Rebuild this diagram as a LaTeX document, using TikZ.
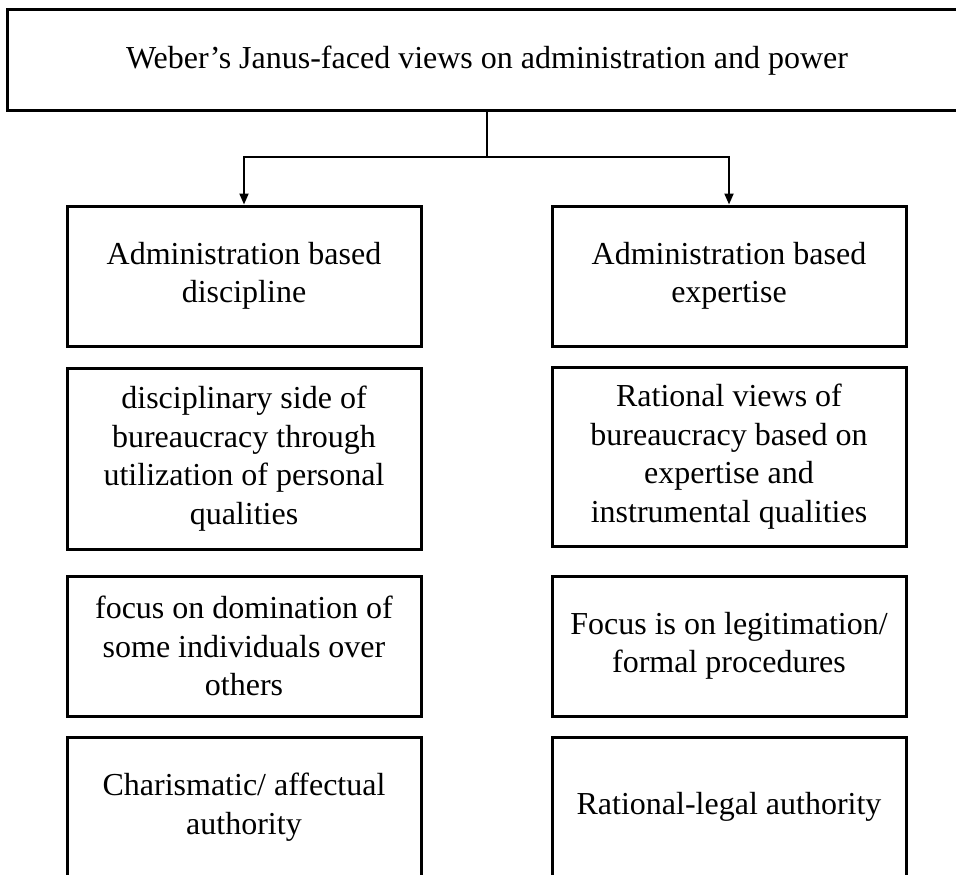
\documentclass[tikz,border=0pt]{standalone}
\usepackage{fontspec}
\setmainfont{Liberation Serif}
\usetikzlibrary{arrows.meta}
\tikzset{
  box/.style={draw=black, line width=3pt, fill=white, align=center, inner sep=0pt,
    minimum width=354pt, font=\fontsize{32}{38.5}\selectfont},
  conn/.style={draw=black, line width=2pt},
  arr/.style={conn, -{Triangle[length=11pt,width=9pt]}}
}
\begin{document}
\begin{tikzpicture}[x=1pt,y=-1pt]
\clip (0,0) rectangle (956,875);
\fill[white] (0,0) rectangle (956,875);
\node[box, minimum width=960pt, minimum height=100pt, text height=18pt, text depth=0pt] (top) at (487,60) {Weber’s Janus-faced views on administration and power};
\node[box, minimum height=140pt] (L1) at (244,276) {Administration based\\discipline};
\node[box, minimum height=181pt] (L2) at (244,458.5) {disciplinary side of\\bureaucracy through\\utilization of personal\\qualities};
\node[box, minimum height=140pt] (L3) at (244,646) {focus on domination of\\some individuals over\\others};
\node[box, minimum height=140pt] (L4) at (244,807) {Charismatic/ affectual\\authority};
\node[box, minimum height=140pt] (R1) at (729,276) {Administration based\\expertise};
\node[box, minimum height=179pt] (R2) at (729,456.5) {Rational views of\\bureaucracy based on\\expertise and\\instrumental qualities};
\node[box, minimum height=140pt] (R3) at (729,646) {Focus is on legitimation/\\formal procedures};
\node[box, minimum height=140pt] (R4) at (729,807) {Rational-legal authority};
\coordinate (split) at (487,157);
\draw[conn] (top.south) -- (split);
\draw[arr] (split) -| (L1.north);
\draw[arr] (split) -| (R1.north);
\end{tikzpicture}
\end{document}
